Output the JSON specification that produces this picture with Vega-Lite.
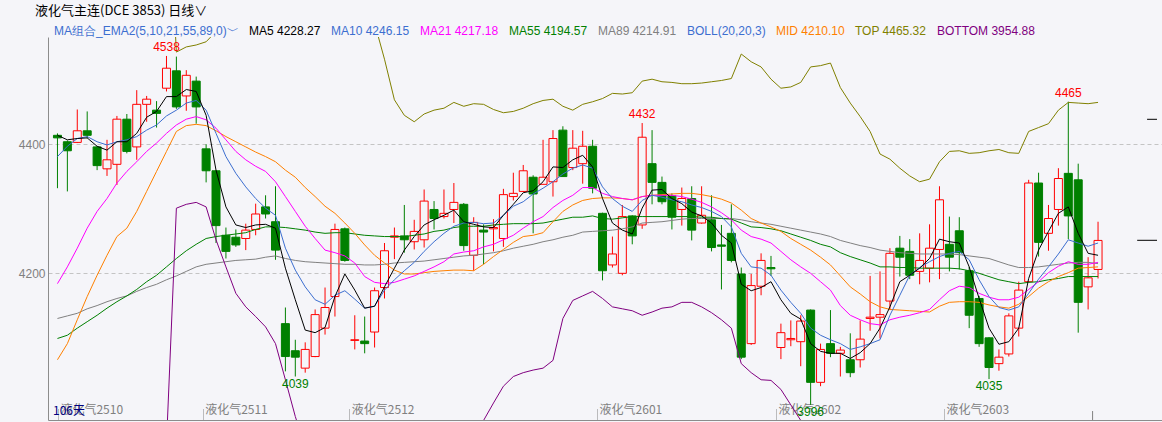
{
"$schema": "https://vega.github.io/schema/vega-lite/v6.json",
"width": 1114, "height": 383,
"autosize": "none",
"padding": {"left": 48, "top": 37, "right": 0, "bottom": 2},
"background": "#f5f5f9",
"config": {"view": {"stroke": null, "fill": "#f5f5f9"}, "font": "Liberation Sans"},
"title": {"text": "液化气主连(DCE 3853)  日线∨", "anchor": "start", "frame": "group", "orient": "top", "offset": 7, "dx": -13, "fontSize": 13, "font": "Noto Sans CJK SC", "fontWeight": "normal", "color": "#000000"},
"data": {"values": [
{"i":0,"o":4414,"h":4417,"l":4332,"c":4410,"MA5":4414,"MA10":4381,"MA21":4184,"MA55":4099,"MA89":4130,"MID":4066,"TOP":null,"BOTTOM":null},
{"i":1,"o":4404,"h":4406,"l":4327,"c":4390,"MA5":4407,"MA10":4397,"MA21":4210,"MA55":4104,"MA89":4134,"MID":4091,"TOP":null,"BOTTOM":null},
{"i":2,"o":4403,"h":4454,"l":4402,"c":4421,"MA5":4409,"MA10":4409,"MA21":4239,"MA55":4115,"MA89":4138,"MID":4128,"TOP":null,"BOTTOM":null},
{"i":3,"o":4421,"h":4451,"l":4409,"c":4414,"MA5":4410,"MA10":4412,"MA21":4270,"MA55":4125,"MA89":4145,"MID":4164,"TOP":null,"BOTTOM":null},
{"i":4,"o":4396,"h":4397,"l":4360,"c":4367,"MA5":4397,"MA10":4404,"MA21":4296,"MA55":4135,"MA89":4150,"MID":4197,"TOP":null,"BOTTOM":null},
{"i":5,"o":4362,"h":4407,"l":4351,"c":4376,"MA5":4391,"MA10":4399,"MA21":4316,"MA55":4146,"MA89":4156,"MID":4228,"TOP":null,"BOTTOM":null},
{"i":6,"o":4369,"h":4444,"l":4337,"c":4439,"MA5":4404,"MA10":4404,"MA21":4340,"MA55":4156,"MA89":4161,"MID":4257,"TOP":null,"BOTTOM":null},
{"i":7,"o":4439,"h":4447,"l":4386,"c":4389,"MA5":4404,"MA10":4407,"MA21":4358,"MA55":4165,"MA89":4165,"MID":4270,"TOP":null,"BOTTOM":null},
{"i":8,"o":4396,"h":4484,"l":4376,"c":4462,"MA5":4417,"MA10":4412,"MA21":4373,"MA55":4175,"MA89":4172,"MID":4296,"TOP":null,"BOTTOM":null},
{"i":9,"o":4462,"h":4475,"l":4435,"c":4470,"MA5":4442,"MA10":4422,"MA21":4389,"MA55":4187,"MA89":4178,"MID":4327,"TOP":null,"BOTTOM":null},
{"i":10,"o":4453,"h":4467,"l":4426,"c":4448,"MA5":4451,"MA10":4430,"MA21":4402,"MA55":4197,"MA89":4183,"MID":4358,"TOP":null,"BOTTOM":null},
{"i":11,"o":4487,"h":4537,"l":4482,"c":4518,"MA5":4474,"MA10":4444,"MA21":4417,"MA55":4210,"MA89":4190,"MID":4389,"TOP":4841,"BOTTOM":3936},
{"i":12,"o":4514,"h":4536,"l":4455,"c":4458,"MA5":4474,"MA10":4453,"MA21":4430,"MA55":4223,"MA89":4196,"MID":4420,"TOP":4543,"BOTTOM":4301},
{"i":13,"o":4475,"h":4515,"l":4452,"c":4507,"MA5":4485,"MA10":4464,"MA21":4439,"MA55":4235,"MA89":4203,"MID":4429,"TOP":4551,"BOTTOM":4307},
{"i":14,"o":4498,"h":4505,"l":4432,"c":4458,"MA5":4482,"MA10":4468,"MA21":4443,"MA55":4245,"MA89":4210,"MID":4431,"TOP":4554,"BOTTOM":4310},
{"i":15,"o":4393,"h":4400,"l":4341,"c":4359,"MA5":4445,"MA10":4453,"MA21":4438,"MA55":4254,"MA89":4214,"MID":4429,"TOP":4559,"BOTTOM":4303},
{"i":16,"o":4359,"h":4360,"l":4247,"c":4274,"MA5":4360,"MA10":4417,"MA21":4425,"MA55":4257,"MA89":4216,"MID":4421,"TOP":4575,"BOTTOM":4252},
{"i":17,"o":4259,"h":4271,"l":4223,"c":4234,"MA5":4303,"MA10":4381,"MA21":4407,"MA55":4259,"MA89":4218,"MID":4412,"TOP":4590,"BOTTOM":4210},
{"i":18,"o":4256,"h":4268,"l":4241,"c":4244,"MA5":4275,"MA10":4355,"MA21":4389,"MA55":4261,"MA89":4220,"MID":4404,"TOP":4605,"BOTTOM":4169},
{"i":19,"o":4254,"h":4277,"l":4236,"c":4267,"MA5":4271,"MA10":4334,"MA21":4376,"MA55":4263,"MA89":4221,"MID":4396,"TOP":4615,"BOTTOM":4148},
{"i":20,"o":4268,"h":4308,"l":4259,"c":4292,"MA5":4275,"MA10":4316,"MA21":4366,"MA55":4268,"MA89":4222,"MID":4388,"TOP":4620,"BOTTOM":4133},
{"i":21,"o":4303,"h":4321,"l":4285,"c":4292,"MA5":4276,"MA10":4301,"MA21":4358,"MA55":4272,"MA89":4225,"MID":4381,"TOP":4625,"BOTTOM":4117},
{"i":22,"o":4280,"h":4335,"l":4221,"c":4236,"MA5":4270,"MA10":4290,"MA21":4342,"MA55":4272,"MA89":4227,"MID":4373,"TOP":4630,"BOTTOM":4091},
{"i":23,"o":4122,"h":4147,"l":4048,"c":4071,"MA5":4208,"MA10":4239,"MA21":4319,"MA55":4271,"MA89":4223,"MID":4360,"TOP":4650,"BOTTOM":4035},
{"i":24,"o":4080,"h":4097,"l":4040,"c":4070,"MA5":4159,"MA10":4205,"MA21":4296,"MA55":4269,"MA89":4220,"MID":4349,"TOP":4670,"BOTTOM":3978},
{"i":25,"o":4053,"h":4093,"l":4046,"c":4082,"MA5":4112,"MA10":4179,"MA21":4273,"MA55":4267,"MA89":4218,"MID":4333,"TOP":4680,"BOTTOM":3930},
{"i":26,"o":4071,"h":4144,"l":4070,"c":4136,"MA5":4108,"MA10":4159,"MA21":4254,"MA55":4264,"MA89":4217,"MID":4319,"TOP":4680,"BOTTOM":3900},
{"i":27,"o":4115,"h":4178,"l":4105,"c":4147,"MA5":4116,"MA10":4152,"MA21":4236,"MA55":4262,"MA89":4216,"MID":4304,"TOP":4675,"BOTTOM":3880},
{"i":28,"o":4164,"h":4277,"l":4133,"c":4268,"MA5":4164,"MA10":4166,"MA21":4232,"MA55":4263,"MA89":4215,"MID":4293,"TOP":4665,"BOTTOM":3870},
{"i":29,"o":4269,"h":4271,"l":4218,"c":4220,"MA5":4199,"MA10":4173,"MA21":4227,"MA55":4263,"MA89":4214,"MID":4278,"TOP":4650,"BOTTOM":3860},
{"i":30,"o":4096,"h":4135,"l":4082,"c":4097,"MA5":4174,"MA10":4160,"MA21":4216,"MA55":4261,"MA89":4214,"MID":4262,"TOP":4630,"BOTTOM":3860},
{"i":31,"o":4095,"h":4133,"l":4076,"c":4091,"MA5":4146,"MA10":4146,"MA21":4195,"MA55":4259,"MA89":4213,"MID":4244,"TOP":4605,"BOTTOM":3860},
{"i":32,"o":4109,"h":4178,"l":4085,"c":4173,"MA5":4149,"MA10":4149,"MA21":4186,"MA55":4258,"MA89":4213,"MID":4228,"TOP":4588,"BOTTOM":3865},
{"i":33,"o":4178,"h":4247,"l":4161,"c":4235,"MA5":4179,"MA10":4174,"MA21":4184,"MA55":4257,"MA89":4214,"MID":4216,"TOP":4532,"BOTTOM":3870},
{"i":34,"o":4256,"h":4271,"l":4222,"c":4258,"MA5":4208,"MA10":4190,"MA21":4186,"MA55":4257,"MA89":4216,"MID":4205,"TOP":4469,"BOTTOM":3880},
{"i":35,"o":4258,"h":4306,"l":4232,"c":4252,"MA5":4236,"MA10":4204,"MA21":4191,"MA55":4257,"MA89":4217,"MID":4199,"TOP":4445,"BOTTOM":3890},
{"i":36,"o":4249,"h":4283,"l":4237,"c":4265,"MA5":4257,"MA10":4217,"MA21":4196,"MA55":4259,"MA89":4218,"MID":4199,"TOP":4435,"BOTTOM":3900},
{"i":37,"o":4252,"h":4330,"l":4240,"c":4312,"MA5":4275,"MA10":4234,"MA21":4203,"MA55":4261,"MA89":4219,"MID":4201,"TOP":4447,"BOTTOM":3905},
{"i":38,"o":4299,"h":4312,"l":4268,"c":4285,"MA5":4283,"MA10":4249,"MA21":4210,"MA55":4265,"MA89":4221,"MID":4203,"TOP":4453,"BOTTOM":3910},
{"i":39,"o":4288,"h":4330,"l":4285,"c":4293,"MA5":4290,"MA10":4262,"MA21":4218,"MA55":4267,"MA89":4223,"MID":4204,"TOP":4456,"BOTTOM":3915},
{"i":40,"o":4299,"h":4340,"l":4278,"c":4310,"MA5":4298,"MA10":4273,"MA21":4230,"MA55":4271,"MA89":4225,"MID":4205,"TOP":4465,"BOTTOM":3920},
{"i":41,"o":4307,"h":4309,"l":4235,"c":4243,"MA5":4280,"MA10":4278,"MA21":4233,"MA55":4273,"MA89":4227,"MID":4205,"TOP":4459,"BOTTOM":3930},
{"i":42,"o":4228,"h":4287,"l":4204,"c":4279,"MA5":4276,"MA10":4279,"MA21":4235,"MA55":4273,"MA89":4228,"MID":4204,"TOP":4463,"BOTTOM":3945},
{"i":43,"o":4267,"h":4276,"l":4214,"c":4264,"MA5":4272,"MA10":4277,"MA21":4241,"MA55":4273,"MA89":4230,"MID":4214,"TOP":4462,"BOTTOM":3972},
{"i":44,"o":4269,"h":4284,"l":4234,"c":4271,"MA5":4271,"MA10":4278,"MA21":4245,"MA55":4275,"MA89":4232,"MID":4226,"TOP":4454,"BOTTOM":3999},
{"i":45,"o":4254,"h":4331,"l":4241,"c":4322,"MA5":4290,"MA10":4290,"MA21":4252,"MA55":4276,"MA89":4235,"MID":4237,"TOP":4449,"BOTTOM":4025},
{"i":46,"o":4319,"h":4356,"l":4313,"c":4324,"MA5":4307,"MA10":4304,"MA21":4259,"MA55":4277,"MA89":4239,"MID":4248,"TOP":4451,"BOTTOM":4040},
{"i":47,"o":4327,"h":4368,"l":4326,"c":4359,"MA5":4325,"MA10":4311,"MA21":4270,"MA55":4277,"MA89":4242,"MID":4257,"TOP":4456,"BOTTOM":4046},
{"i":48,"o":4349,"h":4352,"l":4262,"c":4323,"MA5":4328,"MA10":4323,"MA21":4280,"MA55":4277,"MA89":4245,"MID":4259,"TOP":4463,"BOTTOM":4050},
{"i":49,"o":4338,"h":4407,"l":4338,"c":4349,"MA5":4342,"MA10":4332,"MA21":4288,"MA55":4278,"MA89":4249,"MID":4263,"TOP":4468,"BOTTOM":4053},
{"i":50,"o":4342,"h":4422,"l":4319,"c":4409,"MA5":4365,"MA10":4342,"MA21":4302,"MA55":4281,"MA89":4252,"MID":4280,"TOP":4470,"BOTTOM":4065},
{"i":51,"o":4422,"h":4428,"l":4350,"c":4350,"MA5":4364,"MA10":4354,"MA21":4313,"MA55":4284,"MA89":4256,"MID":4296,"TOP":4459,"BOTTOM":4130},
{"i":52,"o":4364,"h":4422,"l":4360,"c":4394,"MA5":4376,"MA10":4363,"MA21":4321,"MA55":4287,"MA89":4259,"MID":4306,"TOP":4453,"BOTTOM":4158},
{"i":53,"o":4370,"h":4421,"l":4339,"c":4397,"MA5":4383,"MA10":4368,"MA21":4333,"MA55":4287,"MA89":4264,"MID":4313,"TOP":4462,"BOTTOM":4165},
{"i":54,"o":4397,"h":4407,"l":4324,"c":4332,"MA5":4365,"MA10":4363,"MA21":4333,"MA55":4289,"MA89":4265,"MID":4316,"TOP":4466,"BOTTOM":4172},
{"i":55,"o":4293,"h":4294,"l":4189,"c":4204,"MA5":4316,"MA10":4334,"MA21":4324,"MA55":4285,"MA89":4266,"MID":4317,"TOP":4471,"BOTTOM":4161},
{"i":56,"o":4213,"h":4257,"l":4209,"c":4230,"MA5":4278,"MA10":4316,"MA21":4319,"MA55":4284,"MA89":4267,"MID":4317,"TOP":4479,"BOTTOM":4148},
{"i":57,"o":4200,"h":4306,"l":4197,"c":4288,"MA5":4267,"MA10":4304,"MA21":4316,"MA55":4286,"MA89":4269,"MID":4316,"TOP":4478,"BOTTOM":4145},
{"i":58,"o":4289,"h":4290,"l":4245,"c":4258,"MA5":4261,"MA10":4296,"MA21":4314,"MA55":4288,"MA89":4272,"MID":4314,"TOP":4480,"BOTTOM":4142},
{"i":59,"o":4275,"h":4433,"l":4269,"c":4411,"MA5":4301,"MA10":4313,"MA21":4319,"MA55":4288,"MA89":4278,"MID":4319,"TOP":4498,"BOTTOM":4135},
{"i":60,"o":4370,"h":4422,"l":4307,"c":4341,"MA5":4329,"MA10":4321,"MA21":4321,"MA55":4288,"MA89":4279,"MID":4321,"TOP":4501,"BOTTOM":4140},
{"i":61,"o":4341,"h":4350,"l":4307,"c":4311,"MA5":4330,"MA10":4318,"MA21":4321,"MA55":4288,"MA89":4280,"MID":4322,"TOP":4497,"BOTTOM":4146},
{"i":62,"o":4320,"h":4324,"l":4268,"c":4287,"MA5":4316,"MA10":4314,"MA21":4321,"MA55":4288,"MA89":4282,"MID":4323,"TOP":4496,"BOTTOM":4148},
{"i":63,"o":4299,"h":4333,"l":4274,"c":4316,"MA5":4308,"MA10":4311,"MA21":4319,"MA55":4288,"MA89":4284,"MID":4324,"TOP":4494,"BOTTOM":4155},
{"i":64,"o":4316,"h":4335,"l":4251,"c":4267,"MA5":4295,"MA10":4306,"MA21":4315,"MA55":4288,"MA89":4285,"MID":4324,"TOP":4494,"BOTTOM":4155},
{"i":65,"o":4278,"h":4335,"l":4277,"c":4290,"MA5":4289,"MA10":4302,"MA21":4310,"MA55":4287,"MA89":4285,"MID":4322,"TOP":4495,"BOTTOM":4148},
{"i":66,"o":4283,"h":4321,"l":4234,"c":4240,"MA5":4278,"MA10":4296,"MA21":4303,"MA55":4287,"MA89":4285,"MID":4319,"TOP":4497,"BOTTOM":4139},
{"i":67,"o":4244,"h":4275,"l":4175,"c":4242,"MA5":4259,"MA10":4288,"MA21":4294,"MA55":4285,"MA89":4285,"MID":4315,"TOP":4499,"BOTTOM":4128},
{"i":68,"o":4262,"h":4307,"l":4217,"c":4220,"MA5":4247,"MA10":4272,"MA21":4283,"MA55":4284,"MA89":4285,"MID":4309,"TOP":4502,"BOTTOM":4115},
{"i":69,"o":4199,"h":4209,"l":4067,"c":4070,"MA5":4183,"MA10":4231,"MA21":4267,"MA55":4278,"MA89":4283,"MID":4298,"TOP":4540,"BOTTOM":4060},
{"i":70,"o":4091,"h":4199,"l":4089,"c":4181,"MA5":4173,"MA10":4210,"MA21":4257,"MA55":4272,"MA89":4280,"MID":4285,"TOP":4528,"BOTTOM":4046},
{"i":71,"o":4180,"h":4231,"l":4166,"c":4220,"MA5":4178,"MA10":4208,"MA21":4253,"MA55":4271,"MA89":4278,"MID":4278,"TOP":4520,"BOTTOM":4035},
{"i":72,"o":4209,"h":4227,"l":4196,"c":4207,"MA5":4187,"MA10":4197,"MA21":4247,"MA55":4269,"MA89":4276,"MID":4272,"TOP":4501,"BOTTOM":4034},
{"i":73,"o":4085,"h":4122,"l":4067,"c":4108,"MA5":4159,"MA10":4174,"MA21":4234,"MA55":4266,"MA89":4273,"MID":4265,"TOP":4487,"BOTTOM":4020},
{"i":74,"o":4097,"h":4127,"l":4087,"c":4099,"MA5":4138,"MA10":4155,"MA21":4221,"MA55":4261,"MA89":4270,"MID":4254,"TOP":4489,"BOTTOM":3996},
{"i":75,"o":4094,"h":4135,"l":4056,"c":4126,"MA5":4129,"MA10":4138,"MA21":4210,"MA55":4256,"MA89":4267,"MID":4245,"TOP":4496,"BOTTOM":3972},
{"i":76,"o":4143,"h":4144,"l":3996,"c":4031,"MA5":4091,"MA10":4115,"MA21":4200,"MA55":4251,"MA89":4264,"MID":4236,"TOP":4520,"BOTTOM":3950},
{"i":77,"o":4031,"h":4091,"l":4025,"c":4082,"MA5":4079,"MA10":4104,"MA21":4187,"MA55":4245,"MA89":4261,"MID":4225,"TOP":4522,"BOTTOM":3928},
{"i":78,"o":4091,"h":4143,"l":4070,"c":4076,"MA5":4076,"MA10":4097,"MA21":4174,"MA55":4241,"MA89":4257,"MID":4213,"TOP":4526,"BOTTOM":3900},
{"i":79,"o":4076,"h":4086,"l":4040,"c":4081,"MA5":4076,"MA10":4091,"MA21":4150,"MA55":4232,"MA89":4251,"MID":4196,"TOP":4488,"BOTTOM":3905},
{"i":80,"o":4066,"h":4107,"l":4039,"c":4046,"MA5":4068,"MA10":4082,"MA21":4135,"MA55":4226,"MA89":4247,"MID":4179,"TOP":4464,"BOTTOM":3895},
{"i":81,"o":4066,"h":4127,"l":4054,"c":4098,"MA5":4077,"MA10":4086,"MA21":4128,"MA55":4221,"MA89":4243,"MID":4168,"TOP":4443,"BOTTOM":3893},
{"i":82,"o":4130,"h":4196,"l":4111,"c":4132,"MA5":4091,"MA10":4091,"MA21":4122,"MA55":4216,"MA89":4240,"MID":4156,"TOP":4420,"BOTTOM":3892},
{"i":83,"o":4132,"h":4203,"l":4099,"c":4136,"MA5":4115,"MA10":4097,"MA21":4120,"MA55":4210,"MA89":4236,"MID":4148,"TOP":4385,"BOTTOM":3911},
{"i":84,"o":4157,"h":4239,"l":4143,"c":4231,"MA5":4148,"MA10":4135,"MA21":4128,"MA55":4210,"MA89":4234,"MID":4144,"TOP":4377,"BOTTOM":3911},
{"i":85,"o":4239,"h":4258,"l":4195,"c":4225,"MA5":4187,"MA10":4166,"MA21":4132,"MA55":4209,"MA89":4232,"MID":4143,"TOP":4363,"BOTTOM":3923},
{"i":86,"o":4234,"h":4253,"l":4191,"c":4197,"MA5":4197,"MA10":4197,"MA21":4135,"MA55":4209,"MA89":4231,"MID":4142,"TOP":4351,"BOTTOM":3932},
{"i":87,"o":4203,"h":4262,"l":4183,"c":4220,"MA5":4208,"MA10":4209,"MA21":4139,"MA55":4208,"MA89":4230,"MID":4141,"TOP":4342,"BOTTOM":3939},
{"i":88,"o":4208,"h":4276,"l":4186,"c":4239,"MA5":4223,"MA10":4218,"MA21":4144,"MA55":4208,"MA89":4230,"MID":4140,"TOP":4346,"BOTTOM":3934},
{"i":89,"o":4237,"h":4335,"l":4191,"c":4314,"MA5":4253,"MA10":4226,"MA21":4159,"MA55":4208,"MA89":4230,"MID":4149,"TOP":4373,"BOTTOM":3926},
{"i":90,"o":4245,"h":4288,"l":4203,"c":4225,"MA5":4249,"MA10":4231,"MA21":4173,"MA55":4208,"MA89":4230,"MID":4155,"TOP":4389,"BOTTOM":3920},
{"i":91,"o":4266,"h":4287,"l":4206,"c":4232,"MA5":4247,"MA10":4234,"MA21":4180,"MA55":4207,"MA89":4229,"MID":4156,"TOP":4390,"BOTTOM":3922},
{"i":92,"o":4204,"h":4210,"l":4115,"c":4135,"MA5":4210,"MA10":4221,"MA21":4178,"MA55":4204,"MA89":4227,"MID":4156,"TOP":4386,"BOTTOM":3926},
{"i":93,"o":4161,"h":4165,"l":4086,"c":4091,"MA5":4161,"MA10":4190,"MA21":4169,"MA55":4200,"MA89":4225,"MID":4155,"TOP":4387,"BOTTOM":3922},
{"i":94,"o":4100,"h":4101,"l":4036,"c":4054,"MA5":4115,"MA10":4164,"MA21":4163,"MA55":4195,"MA89":4223,"MID":4151,"TOP":4390,"BOTTOM":3912},
{"i":95,"o":4060,"h":4082,"l":4049,"c":4070,"MA5":4090,"MA10":4147,"MA21":4159,"MA55":4190,"MA89":4218,"MID":4148,"TOP":4392,"BOTTOM":3904},
{"i":96,"o":4075,"h":4138,"l":4071,"c":4134,"MA5":4094,"MA10":4143,"MA21":4159,"MA55":4187,"MA89":4213,"MID":4146,"TOP":4387,"BOTTOM":3905},
{"i":97,"o":4115,"h":4187,"l":4102,"c":4174,"MA5":4115,"MA10":4148,"MA21":4163,"MA55":4184,"MA89":4209,"MID":4152,"TOP":4386,"BOTTOM":3919},
{"i":98,"o":4187,"h":4345,"l":4187,"c":4340,"MA5":4192,"MA10":4169,"MA21":4175,"MA55":4186,"MA89":4209,"MID":4164,"TOP":4420,"BOTTOM":3908},
{"i":99,"o":4340,"h":4356,"l":4226,"c":4248,"MA5":4236,"MA10":4191,"MA21":4187,"MA55":4187,"MA89":4210,"MID":4177,"TOP":4426,"BOTTOM":3927},
{"i":100,"o":4262,"h":4306,"l":4235,"c":4285,"MA5":4265,"MA10":4210,"MA21":4201,"MA55":4190,"MA89":4212,"MID":4187,"TOP":4432,"BOTTOM":3942},
{"i":101,"o":4299,"h":4363,"l":4274,"c":4347,"MA5":4293,"MA10":4230,"MA21":4211,"MA55":4192,"MA89":4214,"MID":4195,"TOP":4453,"BOTTOM":3937},
{"i":102,"o":4355,"h":4466,"l":4253,"c":4289,"MA5":4303,"MA10":4252,"MA21":4218,"MA55":4195,"MA89":4216,"MID":4201,"TOP":4465,"BOTTOM":3937},
{"i":103,"o":4345,"h":4370,"l":4108,"c":4155,"MA5":4262,"MA10":4247,"MA21":4214,"MA55":4195,"MA89":4217,"MID":4208,"TOP":4464,"BOTTOM":3952},
{"i":104,"o":4179,"h":4225,"l":4144,"c":4193,"MA5":4231,"MA10":4242,"MA21":4214,"MA55":4195,"MA89":4217,"MID":4209,"TOP":4463,"BOTTOM":3955},
{"i":105,"o":4206,"h":4280,"l":4192,"c":4251,"MA5":4228,"MA10":4247,"MA21":4217,"MA55":4195,"MA89":4215,"MID":4210,"TOP":4465,"BOTTOM":3955}
]},
"encoding": {
  "x": {"field": "i", "type": "quantitative", "scale": {"domain": [-0.45, 110.95], "nice": false, "zero": false},
    "axis": {"values": [0.05, 14.65, 29.45, 54.45, 72.5, 89.45],
      "labelExpr": "datum.value < 5 ? '液化气2510' : datum.value < 20 ? '液化气2511' : datum.value < 40 ? '液化气2512' : datum.value < 60 ? '液化气2601' : datum.value < 80 ? '液化气2602' : '液化气2603'",
      "labelAlign": "left", "labelBaseline": "top", "labelOffset": 2, "labelPadding": -4,
      "tickSize": -12, "tickDash": [1, 1], "tickColor": "#808080",
      "labelColor": "#808080", "labelFontSize": 12, "labelFont": "Noto Sans CJK SC",
      "domainColor": "#8c8c8c", "grid": false, "title": null, "labelFlush": false, "labelOverlap": false}}
},
"layer": [
  {"mark": {"type": "rule", "strokeWidth": 1},
   "encoding": {
     "y": {"field": "l", "type": "quantitative", "scale": {"domain": [3972.6, 4566.4], "nice": false, "zero": false},
       "axis": {"values": [4200, 4400], "format": "d", "grid": true, "gridDash": [4, 3], "gridColor": "#c4c4c4", "ticks": false, "domainColor": "#8c8c8c", "labelColor": "#808080", "labelFontSize": 12, "labelPadding": 3, "title": null}},
     "y2": {"field": "h"},
     "color": {"condition": {"test": "datum.c >= datum.o", "value": "#ff0000"}, "value": "#008000"}}},
  {"mark": {"type": "bar", "width": 8, "strokeWidth": 1},
   "encoding": {
     "y": {"field": "o", "type": "quantitative", "scale": {"domain": [3972.6, 4566.4], "nice": false, "zero": false},
       "axis": {"values": [4200, 4400], "format": "d", "grid": true, "gridDash": [4, 3], "gridColor": "#c4c4c4", "ticks": false, "domainColor": "#8c8c8c", "labelColor": "#808080", "labelFontSize": 12, "labelPadding": 3, "title": null}},
     "y2": {"field": "c"},
     "fill": {"condition": {"test": "datum.c >= datum.o", "value": "#f5f5f9"}, "value": "#008000"},
     "stroke": {"condition": {"test": "datum.c >= datum.o", "value": "#ff0000"}, "value": "#008000"}}},
  {"transform": [{"fold": ["MA89", "MA55", "MID", "TOP", "BOTTOM", "MA21", "MA10", "MA5"], "as": ["key", "val"]}],
   "mark": {"type": "line", "strokeWidth": 1, "clip": true},
   "encoding": {
     "y": {"field": "val", "type": "quantitative", "scale": {"domain": [3972.6, 4566.4], "nice": false, "zero": false},
       "axis": {"values": [4200, 4400], "format": "d", "grid": true, "gridDash": [4, 3], "gridColor": "#c4c4c4", "ticks": false, "domainColor": "#8c8c8c", "labelColor": "#808080", "labelFontSize": 12, "labelPadding": 3, "title": null}},
     "color": {"field": "key", "type": "nominal",
       "scale": {"domain": ["组合", "MA5", "MA10", "MA21", "MA55", "MA89", "BOLL", "MID", "TOP", "BOTTOM"],
                 "range": ["#3c6ed0", "#000000", "#3c6ed0", "#ff00ff", "#008000", "#808080", "#3c6ed0", "#ff8000", "#808000", "#800080"]},
       "legend": {"orient": "none", "legendX": -6, "legendY": -12, "direction": "horizontal", "title": null, "gridAlign": "none",
         "symbolSize": 0, "symbolOpacity": 0, "symbolStrokeWidth": 0, "labelOffset": 0, "columnPadding": -2,
         "labelFontSize": 12, "labelFont": "Liberation Sans", "labelLimit": 400, "padding": 0,
         "labelExpr": "datum.label == '组合' ? 'MA组合_EMA2(5,10,21,55,89,0)﹀' : datum.label == 'MA5' ? 'MA5 4228.27' : datum.label == 'MA10' ? 'MA10 4246.15' : datum.label == 'MA21' ? 'MA21 4217.18' : datum.label == 'MA55' ? 'MA55 4194.57' : datum.label == 'MA89' ? 'MA89 4214.91' : datum.label == 'BOLL' ? 'BOLL(20,20,3)' : datum.label == 'MID' ? 'MID 4210.10' : datum.label == 'TOP' ? 'TOP 4465.32' : 'BOTTOM 3954.88'",
         "encode": {"labels": {"update": {"fill": {"scale": "color", "field": "value"}}}}},
       "sort": null},
     "detail": {"field": "key"}}},
  {"data": {"values": [{"i": 11, "v": 4537, "t": "4538"}, {"i": 59, "v": 4433, "t": "4432"}, {"i": 102, "v": 4466, "t": "4465"}]},
   "mark": {"type": "text", "baseline": "bottom", "dy": -2, "fontSize": 12, "color": "#ff0000"},
   "encoding": {"y": {"field": "v", "type": "quantitative", "scale": {"domain": [3972.6, 4566.4], "nice": false, "zero": false},
       "axis": {"values": [4200, 4400], "format": "d", "grid": true, "gridDash": [4, 3], "gridColor": "#c4c4c4", "ticks": false, "domainColor": "#8c8c8c", "labelColor": "#808080", "labelFontSize": 12, "labelPadding": 3, "title": null}}, "text": {"field": "t"}}},
  {"data": {"values": [{"i": 24, "v": 4040, "t": "4039"}, {"i": 76, "v": 3996, "t": "3996"}, {"i": 94, "v": 4036, "t": "4035"}]},
   "mark": {"type": "text", "baseline": "top", "dy": 2, "fontSize": 12, "color": "#008000"},
   "encoding": {"y": {"field": "v", "type": "quantitative", "scale": {"domain": [3972.6, 4566.4], "nice": false, "zero": false},
       "axis": {"values": [4200, 4400], "format": "d", "grid": true, "gridDash": [4, 3], "gridColor": "#c4c4c4", "ticks": false, "domainColor": "#8c8c8c", "labelColor": "#808080", "labelFontSize": 12, "labelPadding": 3, "title": null}}, "text": {"field": "t"}}},
  {"data": {"values": [{"i": -0.45, "v": 3975.7, "t": "106天"}]},
   "mark": {"type": "text", "baseline": "bottom", "align": "left", "fontSize": 12, "font": "Noto Sans CJK SC", "color": "#000080"},
   "encoding": {"y": {"field": "v", "type": "quantitative", "scale": {"domain": [3972.6, 4566.4], "nice": false, "zero": false},
       "axis": {"values": [4200, 4400], "format": "d", "grid": true, "gridDash": [4, 3], "gridColor": "#c4c4c4", "ticks": false, "domainColor": "#8c8c8c", "labelColor": "#808080", "labelFontSize": 12, "labelPadding": 3, "title": null}}, "text": {"field": "t"}}},
  {"data": {"values": [{"i": 109.95, "i2": 110.95, "v": 4438.8}, {"i": 108.95, "i2": 110.95, "v": 4251.2}]},
   "mark": {"type": "rule", "strokeWidth": 1, "color": "#000000"},
   "encoding": {"x2": {"field": "i2"}, "y": {"field": "v", "type": "quantitative", "scale": {"domain": [3972.6, 4566.4], "nice": false, "zero": false},
       "axis": {"values": [4200, 4400], "format": "d", "grid": true, "gridDash": [4, 3], "gridColor": "#c4c4c4", "ticks": false, "domainColor": "#8c8c8c", "labelColor": "#808080", "labelFontSize": 12, "labelPadding": 3, "title": null}}}},
  {"data": {"values": [{"i": 104.45, "v": 3986.5, "v2": 3972.6}]},
   "mark": {"type": "rule", "strokeWidth": 1, "color": "#808080"},
   "encoding": {"y": {"field": "v", "type": "quantitative", "scale": {"domain": [3972.6, 4566.4], "nice": false, "zero": false},
       "axis": {"values": [4200, 4400], "format": "d", "grid": true, "gridDash": [4, 3], "gridColor": "#c4c4c4", "ticks": false, "domainColor": "#8c8c8c", "labelColor": "#808080", "labelFontSize": 12, "labelPadding": 3, "title": null}}, "y2": {"field": "v2"}}}
]
}
